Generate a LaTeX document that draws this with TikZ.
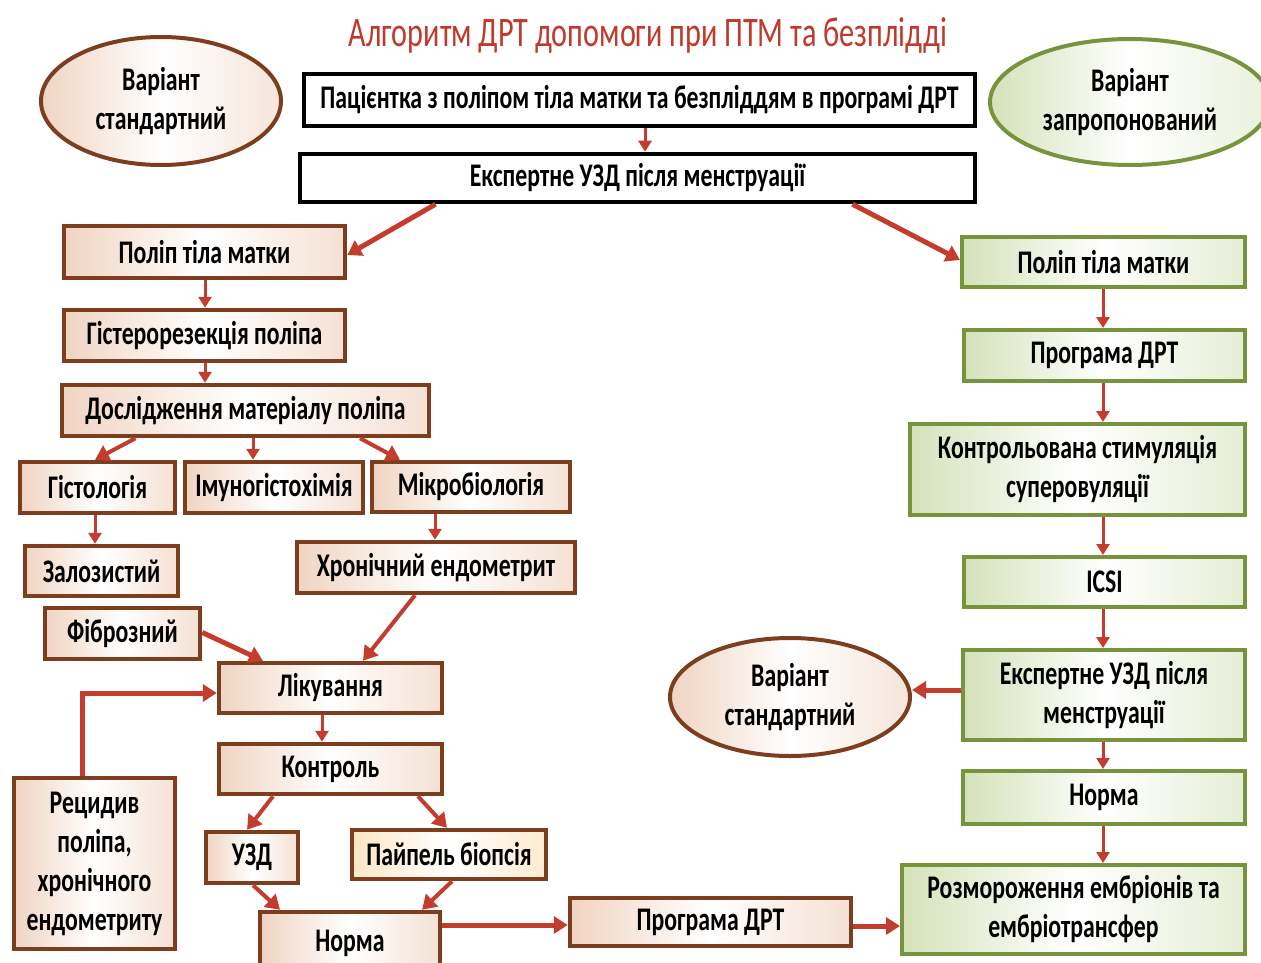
\documentclass[tikz,border=0pt]{standalone}
\usepackage{fontspec}
\setmainfont{Carlito}[FakeStretch=0.72]
\usetikzlibrary{arrows.meta,shapes.geometric}
\definecolor{arrowred}{RGB}{195,60,45}
\definecolor{bborder}{RGB}{125,62,32}
\definecolor{bfill}{RGB}{240,212,194}
\definecolor{gborder}{RGB}{119,147,60}
\definecolor{gfill}{RGB}{212,226,186}
\definecolor{cfill}{RGB}{252,230,196}
\definecolor{titlered}{RGB}{192,57,43}
\begin{document}
\begin{tikzpicture}[x=1pt,y=-1pt,
  every node/.style={font=\fontsize{33}{39}\selectfont\bfseries, align=center, inner sep=0pt},
  bbox/.style={rectangle, draw=bborder, line width=4.5pt, left color=bfill, right color=bfill!70, middle color=white},
  cbox/.style={rectangle, draw=bborder, line width=4.5pt, left color=cfill, right color=cfill!80, middle color=white},
  gbox/.style={rectangle, draw=gborder, line width=4pt, left color=gfill, right color=gfill!60, middle color=white},
  kbox/.style={rectangle, draw=black, line width=4.5pt, fill=white},
  bell/.style={ellipse, draw=bborder, line width=4pt, left color=bfill, right color=bfill!60, middle color=white},
  gell/.style={ellipse, draw=gborder, line width=4pt, left color=gfill, right color=gfill!50, middle color=white},
  thinarr/.style={draw=arrowred, line width=3pt, -{Triangle[length=11pt,width=13pt]}},
  thickarr/.style={draw=arrowred, line width=5pt, -{Triangle[length=14pt,width=17pt]}}
]
\useasboundingbox (0,0) rectangle (1261,963);

% title
\node[font=\fontsize{42}{48}\selectfont, text=titlered, anchor=base] (title) at (648,47) {Алгоритм ДРТ допомоги при ПТМ та безплідді};

% ellipses
\node[bell, minimum width=240pt, minimum height=128pt] (E1) at (161,101) {Варіант\\стандартний};
\node[gell, minimum width=280pt, minimum height=126pt] (E2) at (1130,102) {Варіант\\запропонований};
\node[bell, minimum width=240pt, minimum height=118pt] (E3) at (790,697) {Варіант\\стандартний};

% top boxes
\node[kbox, minimum width=671pt, minimum height=52pt] (top1) at (639.5,100) {Пацієнтка з поліпом тіла матки та безпліддям в програмі ДРТ};
\node[kbox, minimum width=675pt, minimum height=48pt] (top2) at (637.5,178) {Експертне УЗД після менструації};

% left column
\node[bbox, minimum width=281pt, minimum height=52pt] (Lpolip) at (204.5,252) {Поліп тіла матки};
\node[bbox, minimum width=281pt, minimum height=51pt] (Lhyst) at (204.5,335.5) {Гістерорезекція поліпа};
\node[bbox, minimum width=367pt, minimum height=51pt] (Ldosl) at (245.5,410.5) {Дослідження матеріалу поліпа};
\node[bbox, minimum width=155pt, minimum height=51pt] (Lhist) at (97.5,487.5) {Гістологія};
\node[bbox, minimum width=178pt, minimum height=51pt] (Limm) at (274,487.5) {Імуногістохімія};
\node[bbox, minimum width=198pt, minimum height=50pt] (Lmicro) at (471,487) {Мікробіологія};
\node[bbox, minimum width=153pt, minimum height=50pt] (Lzal) at (101.5,571) {Залозистий};
\node[bbox, minimum width=278pt, minimum height=51pt] (Lchron) at (436,567.5) {Хронічний ендометрит};
\node[bbox, minimum width=155pt, minimum height=51pt] (Lfib) at (122.5,633.5) {Фіброзний};
\node[bbox, minimum width=223pt, minimum height=50pt] (Llik) at (330.5,688) {Лікування};
\node[bbox, minimum width=223pt, minimum height=50pt] (Lkontr) at (330.5,769) {Контроль};
\node[bbox, minimum width=92pt, minimum height=51pt] (Luzd) at (252,857.5) {УЗД};
\node[cbox, minimum width=194pt, minimum height=49pt] (Lpaipel) at (449,854.5) {Пайпель біопсія};
\node[bbox, minimum width=180pt, minimum height=62pt] (Lnorma) at (350,943) {Норма};
\node[bbox, minimum width=161pt, minimum height=171pt] (Lrec) at (94.5,863.5) {Рецидив\\поліпа,\\хронічного\\ендометриту};
\node[bbox, minimum width=281pt, minimum height=48pt] (Lprog) at (710.5,922) {Програма ДРТ};

% right column
\node[gbox, minimum width=283pt, minimum height=50pt] (Rpolip) at (1103.5,262) {Поліп тіла матки};
\node[gbox, minimum width=281pt, minimum height=51pt] (Rprog) at (1104.5,355.5) {Програма ДРТ};
\node[gbox, minimum width=335pt, minimum height=91pt] (Rstim) at (1077.5,469.5) {Контрольована стимуляція\\суперовуляції};
\node[gbox, minimum width=281pt, minimum height=50pt] (Ricsi) at (1104.5,582) {ICSI};
\node[gbox, minimum width=282pt, minimum height=90pt] (Rexp) at (1104,695) {Експертне УЗД після\\менструації};
\node[gbox, minimum width=282pt, minimum height=53pt] (Rnorma) at (1104,797.5) {Норма};
\node[gbox, minimum width=343pt, minimum height=89pt] (Rrozm) at (1073.5,909.5) {Розмороження ембріонів та\\ембріотрансфер};

% connectors
\draw[thinarr] ([xshift=5.5pt]top1.south) -- ([xshift=5.5pt]top1.south |- top2.north);
\draw[thickarr] ([xshift=-202pt]top2.south) -- ([yshift=-3pt]Lpolip.east);
\draw[thickarr] ([xshift=215pt]top2.south) -- ([yshift=2pt]Rpolip.west);
\draw[thinarr] ([xshift=0.5pt]Lpolip.south) -- ([xshift=0.5pt]Lpolip.south |- Lhyst.north);
\draw[thinarr] ([xshift=0.5pt]Lhyst.south) -- ([xshift=0.5pt]Lhyst.south |- Ldosl.north);
\draw[thickarr, line width=4pt] ([xshift=-110pt]Ldosl.south) -- ([xshift=-2.5pt]Lhist.north);
\draw[thinarr] ([xshift=7.5pt]Ldosl.south) -- ([xshift=7.5pt]Ldosl.south |- Limm.north);
\draw[thickarr, line width=4pt] ([xshift=114.5pt]Ldosl.south) -- ([xshift=-71pt]Lmicro.north);
\draw[thinarr] ([xshift=-2.5pt]Lhist.south) -- ([xshift=-2.5pt]Lhist.south |- Lzal.north);
\draw[thinarr] ([xshift=-36pt]Lmicro.south) -- ([xshift=-36pt]Lmicro.south |- Lchron.north);
\draw[thickarr] ([yshift=1pt]Lfib.east) -- ([xshift=-67.5pt]Llik.north);
\draw[thickarr, line width=4pt] ([xshift=-21pt]Lchron.south) -- ([xshift=32.5pt]Llik.north);
\draw[thickarr] ([xshift=-12.5pt]Lrec.north) |- ([yshift=-5pt]Llik.west);
\draw[thinarr] ([xshift=-8.5pt]Llik.south) -- ([xshift=-8.5pt]Llik.south |- Lkontr.north);
\draw[thickarr, line width=4pt] ([xshift=-57.5pt]Lkontr.south) -- ([xshift=-5pt]Luzd.north);
\draw[thickarr, line width=4pt] ([xshift=87.5pt]Lkontr.south) -- ([xshift=-2pt]Lpaipel.north);
\draw[thickarr, line width=4pt] ([xshift=1pt]Luzd.south) -- ([xshift=-70pt]Lnorma.north);
\draw[thickarr, line width=4pt] ([xshift=3pt]Lpaipel.south) -- ([xshift=72pt]Lnorma.north);
\draw[thickarr] ([yshift=-3pt]Lprog.west -| Lnorma.east) -- ([yshift=-3pt]Lprog.west);
\draw[thickarr] ([yshift=-4pt]Lprog.east) -- ([yshift=-4pt]Lprog.east -| Rrozm.west);
\draw[thinarr] ([xshift=-0.5pt]Rpolip.south) -- ([xshift=-0.5pt]Rpolip.south |- Rprog.north);
\draw[thinarr] ([xshift=-1.5pt]Rprog.south) -- ([xshift=-1.5pt]Rprog.south |- Rstim.north);
\draw[thinarr] ([xshift=25.5pt]Rstim.south) -- ([xshift=25.5pt]Rstim.south |- Ricsi.north);
\draw[thinarr] ([xshift=-1.5pt]Ricsi.south) -- ([xshift=-1.5pt]Ricsi.south |- Rexp.north);
\draw[thickarr] ([yshift=5pt]Rexp.west) -- ([yshift=5pt]Rexp.west -| E3.east);
\draw[thinarr] ([xshift=-1pt]Rexp.south) -- ([xshift=-1pt]Rexp.south |- Rnorma.north);
\draw[thinarr] ([xshift=-1pt]Rnorma.south) -- ([xshift=-1pt]Rnorma.south |- Rrozm.north);
\end{tikzpicture}
\end{document}
